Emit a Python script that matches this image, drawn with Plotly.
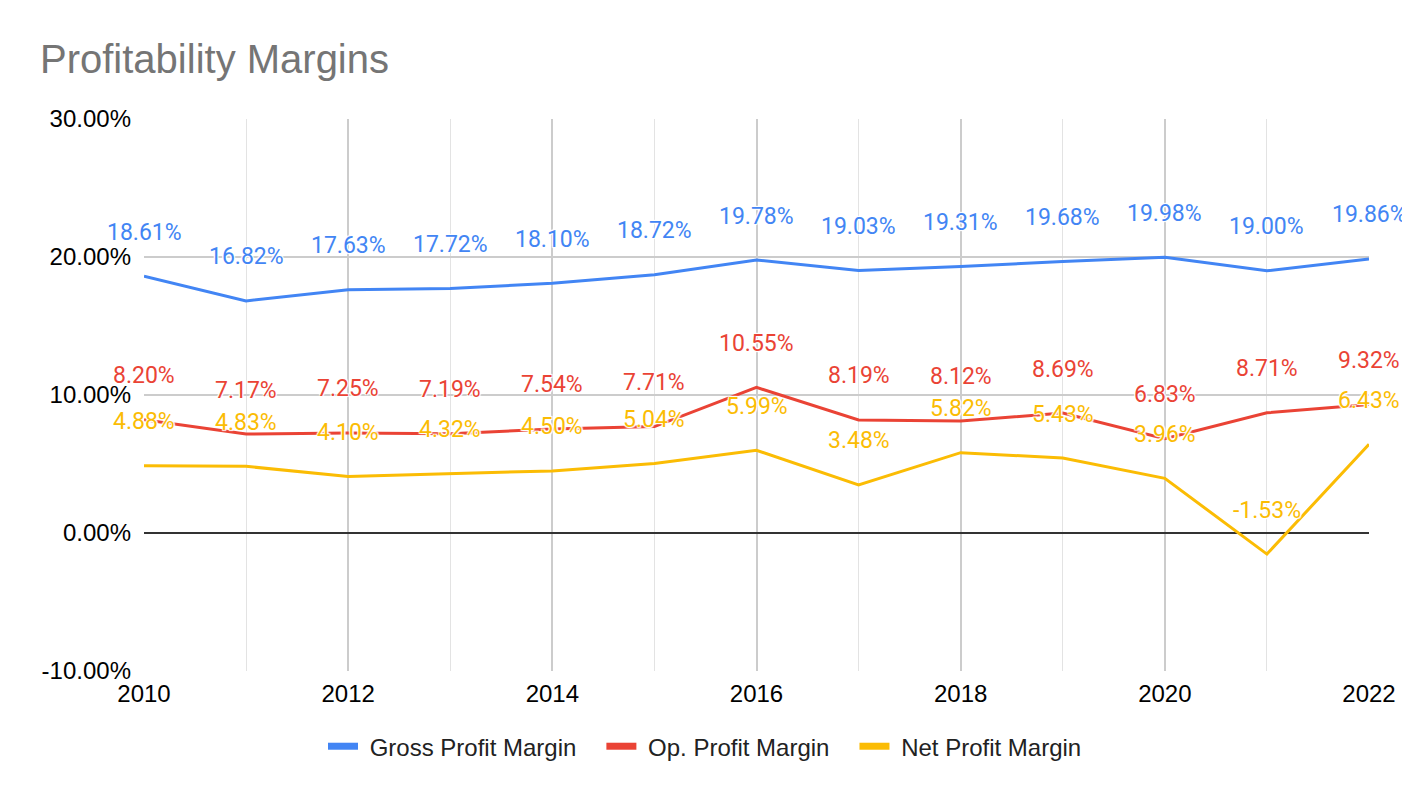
import plotly.graph_objects as go

years = list(range(2010, 2023))
gross = [18.61, 16.82, 17.63, 17.72, 18.10, 18.72, 19.78, 19.03, 19.31, 19.68, 19.98, 19.00, 19.86]
op = [8.20, 7.17, 7.25, 7.19, 7.54, 7.71, 10.55, 8.19, 8.12, 8.69, 6.83, 8.71, 9.32]
net = [4.88, 4.83, 4.10, 4.32, 4.50, 5.04, 5.99, 3.48, 5.82, 5.43, 3.96, -1.53, 6.43]

y_ticks = [-0.10, 0.0, 0.10, 0.20, 0.30]
y_ticktext = ['-10.00%', '0.00%', '10.00%', '20.00%', '30.00%']

series = [
    ('Gross Profit Margin', gross, '#4285F4'),
    ('Op. Profit Margin', op, '#EA4335'),
    ('Net Profit Margin', net, '#FBBC04'),
]

halo = '1px 1px 1px white, -1px -1px 1px white, 1px -1px 1px white, -1px 1px 1px white'
nb = '\u00a0'

fig = go.Figure()
annos = []
for name, vals, col in series:
    fig.add_trace(go.Scatter(x=years, y=[v / 100 for v in vals], mode='lines', name=name,
                             line=dict(color=col, width=3), showlegend=False))
    # legend-only trace, thicker swatch + a bit of padding like the original
    fig.add_trace(go.Scatter(x=[None], y=[None], mode='lines', name=nb + name + nb * 3,
                             line=dict(color=col, width=7)))
    for yr, v in zip(years, vals):
        annos.append(dict(x=yr, y=v / 100, text='%.2f%%' % v, showarrow=False, yshift=44,
                          font=dict(family='Roboto', size=23, color=col, shadow=halo)))

fig.update_layout(
    width=1402, height=790,
    paper_bgcolor='white', plot_bgcolor='white',
    margin=dict(l=136, r=41, t=111, b=127),
    title=dict(text='Profitability Margins', xref='container', x=32 / 1402, xanchor='left',
               yref='container', y=1 - 51 / 790, yanchor='middle',
               font=dict(family='Liberation Sans, Arial', size=40, color='#757575')),
    font=dict(family='Liberation Sans, Arial', size=24, color='#000000'),
    annotations=annos,
    legend=dict(orientation='h', x=(323 - 144) / 1225, xanchor='left', y=-0.137,
                yanchor='middle', font=dict(size=24, color='#222222'), itemwidth=30),
)
fig.update_xaxes(range=[2010, 2022], dtick=2, tick0=2010, showgrid=True, gridcolor='#cccccc',
                 gridwidth=1.5, zeroline=False, showline=False, ticks='', ticklabelstandoff=6,
                 minor=dict(dtick=1, showgrid=True, gridcolor='#e3e3e3', gridwidth=1))
fig.update_yaxes(range=[-0.10, 0.30], tickvals=y_ticks, ticktext=y_ticktext, showgrid=True,
                 gridcolor='#cccccc', gridwidth=1.5, zeroline=True, zerolinecolor='#333333',
                 zerolinewidth=1.5, showline=False, ticks='', ticklabelstandoff=12)

fig.write_html('out.html')
